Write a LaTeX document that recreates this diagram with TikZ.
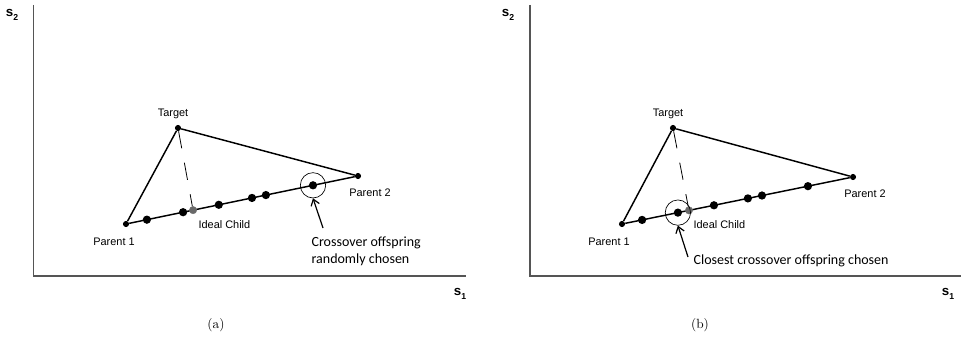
\documentclass[tikz,border=0pt]{standalone}
\usepackage{fontspec}
\usepackage{tikz}
\usetikzlibrary{calc,arrows.meta}
\newfontfamily\labelfont{Liberation Sans}
\newfontfamily\notefont{Carlito}
\definecolor{axiscolor}{RGB}{85,85,85}
\definecolor{idealcolor}{RGB}{105,105,105}

\tikzset{
  axisline/.style={draw=axiscolor, line width=0.9pt},
  edgeline/.style={line width=1.1pt},
  enddot/.style={circle, fill=black, inner sep=0pt, minimum size=4.6pt},
  bigdot/.style={circle, fill=black, inner sep=0pt, minimum size=6.2pt},
  idealdot/.style={circle, fill=idealcolor, draw=black!55, line width=0.3pt, inner sep=0pt, minimum size=5.6pt},
  ring/.style={circle, draw, line width=0.5pt, inner sep=0pt, minimum size=19pt},
  guide/.style={line width=0.6pt, dash pattern=on 13pt off 11pt},
  pointer/.style={->, >={Straight Barb[length=4.5pt,width=6.5pt]}, line width=0.9pt},
  ptlabel/.style={font=\labelfont\fontsize{8.2}{9}\selectfont, inner sep=1pt},
  axislabel/.style={font=\labelfont\bfseries\fontsize{10}{11}\selectfont, inner sep=0pt},
  note/.style={font=\notefont\fontsize{10.5}{12.8}\selectfont, align=left, inner sep=1pt},
}
\newcommand{\axname}[1]{s\raisebox{-3pt}{\fontsize{6.5}{7}\selectfont #1}}

\begin{document}
\begin{tikzpicture}[x=0.75pt, y=0.75pt]
\useasboundingbox (0,0) rectangle (961,358);

% ---------------- (a) random offspring ----------------
% Axes
\draw[axisline] (33.5,353) -- (33.5,82) -- (466,82);
\node[axislabel] (s2a) at (12,343) {\axname{2}};
\node[axislabel] (s1a) at (460,64) {\axname{1}};

% Parents and target
\node[enddot] (P1a) at (126,134) {};
\node[enddot] (P2a) at (358,182) {};
\node[enddot] (Ta) at (178,230) {};
\draw[edgeline] (P1a) -- (Ta) -- (P2a) -- (P1a);

% Crossover offspring on the parent line
\node[bigdot] (c1a) at ($(P1a)!0.090!(P2a)$) {};
\node[bigdot] (c2a) at ($(P1a)!0.246!(P2a)$) {};
\node[bigdot] (c3a) at ($(P1a)!0.400!(P2a)$) {};
\node[bigdot] (c4a) at ($(P1a)!0.543!(P2a)$) {};
\node[bigdot] (c5a) at ($(P1a)!0.603!(P2a)$) {};
\node[bigdot] (c6a) at ($(P1a)!0.806!(P2a)$) {};
\node[idealdot] (Ia) at ($(P1a)!0.289!(P2a)$) {};
\draw[guide] (Ta) -- (Ia);

% Labels
\node[ptlabel] (TlabA) at (173,244) {Target};
\node[ptlabel] (P1labA) at (114,116) {Parent 1};
\node[ptlabel] (P2labA) at (370,165) {Parent 2};
\node[ptlabel, anchor=west] (IlabA) at (197,133) {Ideal Child};

% Chosen offspring
\node[ring] (pickA) at (c6a) {};
\node[note, anchor=west] (noteA) at (310,106.5) {Crossover offspring\\randomly chosen};
\coordinate (tailA) at (323,130);
\draw[pointer] (tailA) -- (pickA.south);

\node (capA) at (216,33) {(a)};

% ---------------- (b) closest offspring ----------------
% Axes
\draw[axisline] (530,353) -- (530,82) -- (961,82);
\node[axislabel] (s2b) at (508,343) {\axname{2}};
\node[axislabel] (s1b) at (948,64) {\axname{1}};

% Parents and target
\node[enddot] (P1b) at (622,134) {};
\node[enddot] (P2b) at (853,181) {};
\node[enddot] (Tb) at (673,230) {};
\draw[edgeline] (P1b) -- (Tb) -- (P2b) -- (P1b);

% Crossover offspring on the parent line
\node[bigdot] (c1b) at ($(P1b)!0.087!(P2b)$) {};
\node[bigdot] (c2b) at ($(P1b)!0.242!(P2b)$) {};
\node[bigdot] (c3b) at ($(P1b)!0.398!(P2b)$) {};
\node[bigdot] (c4b) at ($(P1b)!0.545!(P2b)$) {};
\node[bigdot] (c5b) at ($(P1b)!0.606!(P2b)$) {};
\node[bigdot] (c6b) at ($(P1b)!0.805!(P2b)$) {};
\node[idealdot] (Ib) at ($(P1b)!0.290!(P2b)$) {};
\draw[guide] (Tb) -- (Ib);

% Labels
\node[ptlabel] (TlabB) at (668,244) {Target};
\node[ptlabel] (P1labB) at (609,116) {Parent 1};
\node[ptlabel] (P2labB) at (865,164) {Parent 2};
\node[ptlabel, anchor=west] (IlabB) at (692,133) {Ideal Child};

% Chosen offspring
\node[ring] (pickB) at (c2b) {};
\node[note, anchor=west] (noteB) at (692,97) {Closest crossover offspring chosen};
\coordinate (tailB) at (688,101);
\draw[pointer] (tailB) -- (pickB.south);

\node (capB) at (700,33) {(b)};
\end{tikzpicture}
\end{document}
